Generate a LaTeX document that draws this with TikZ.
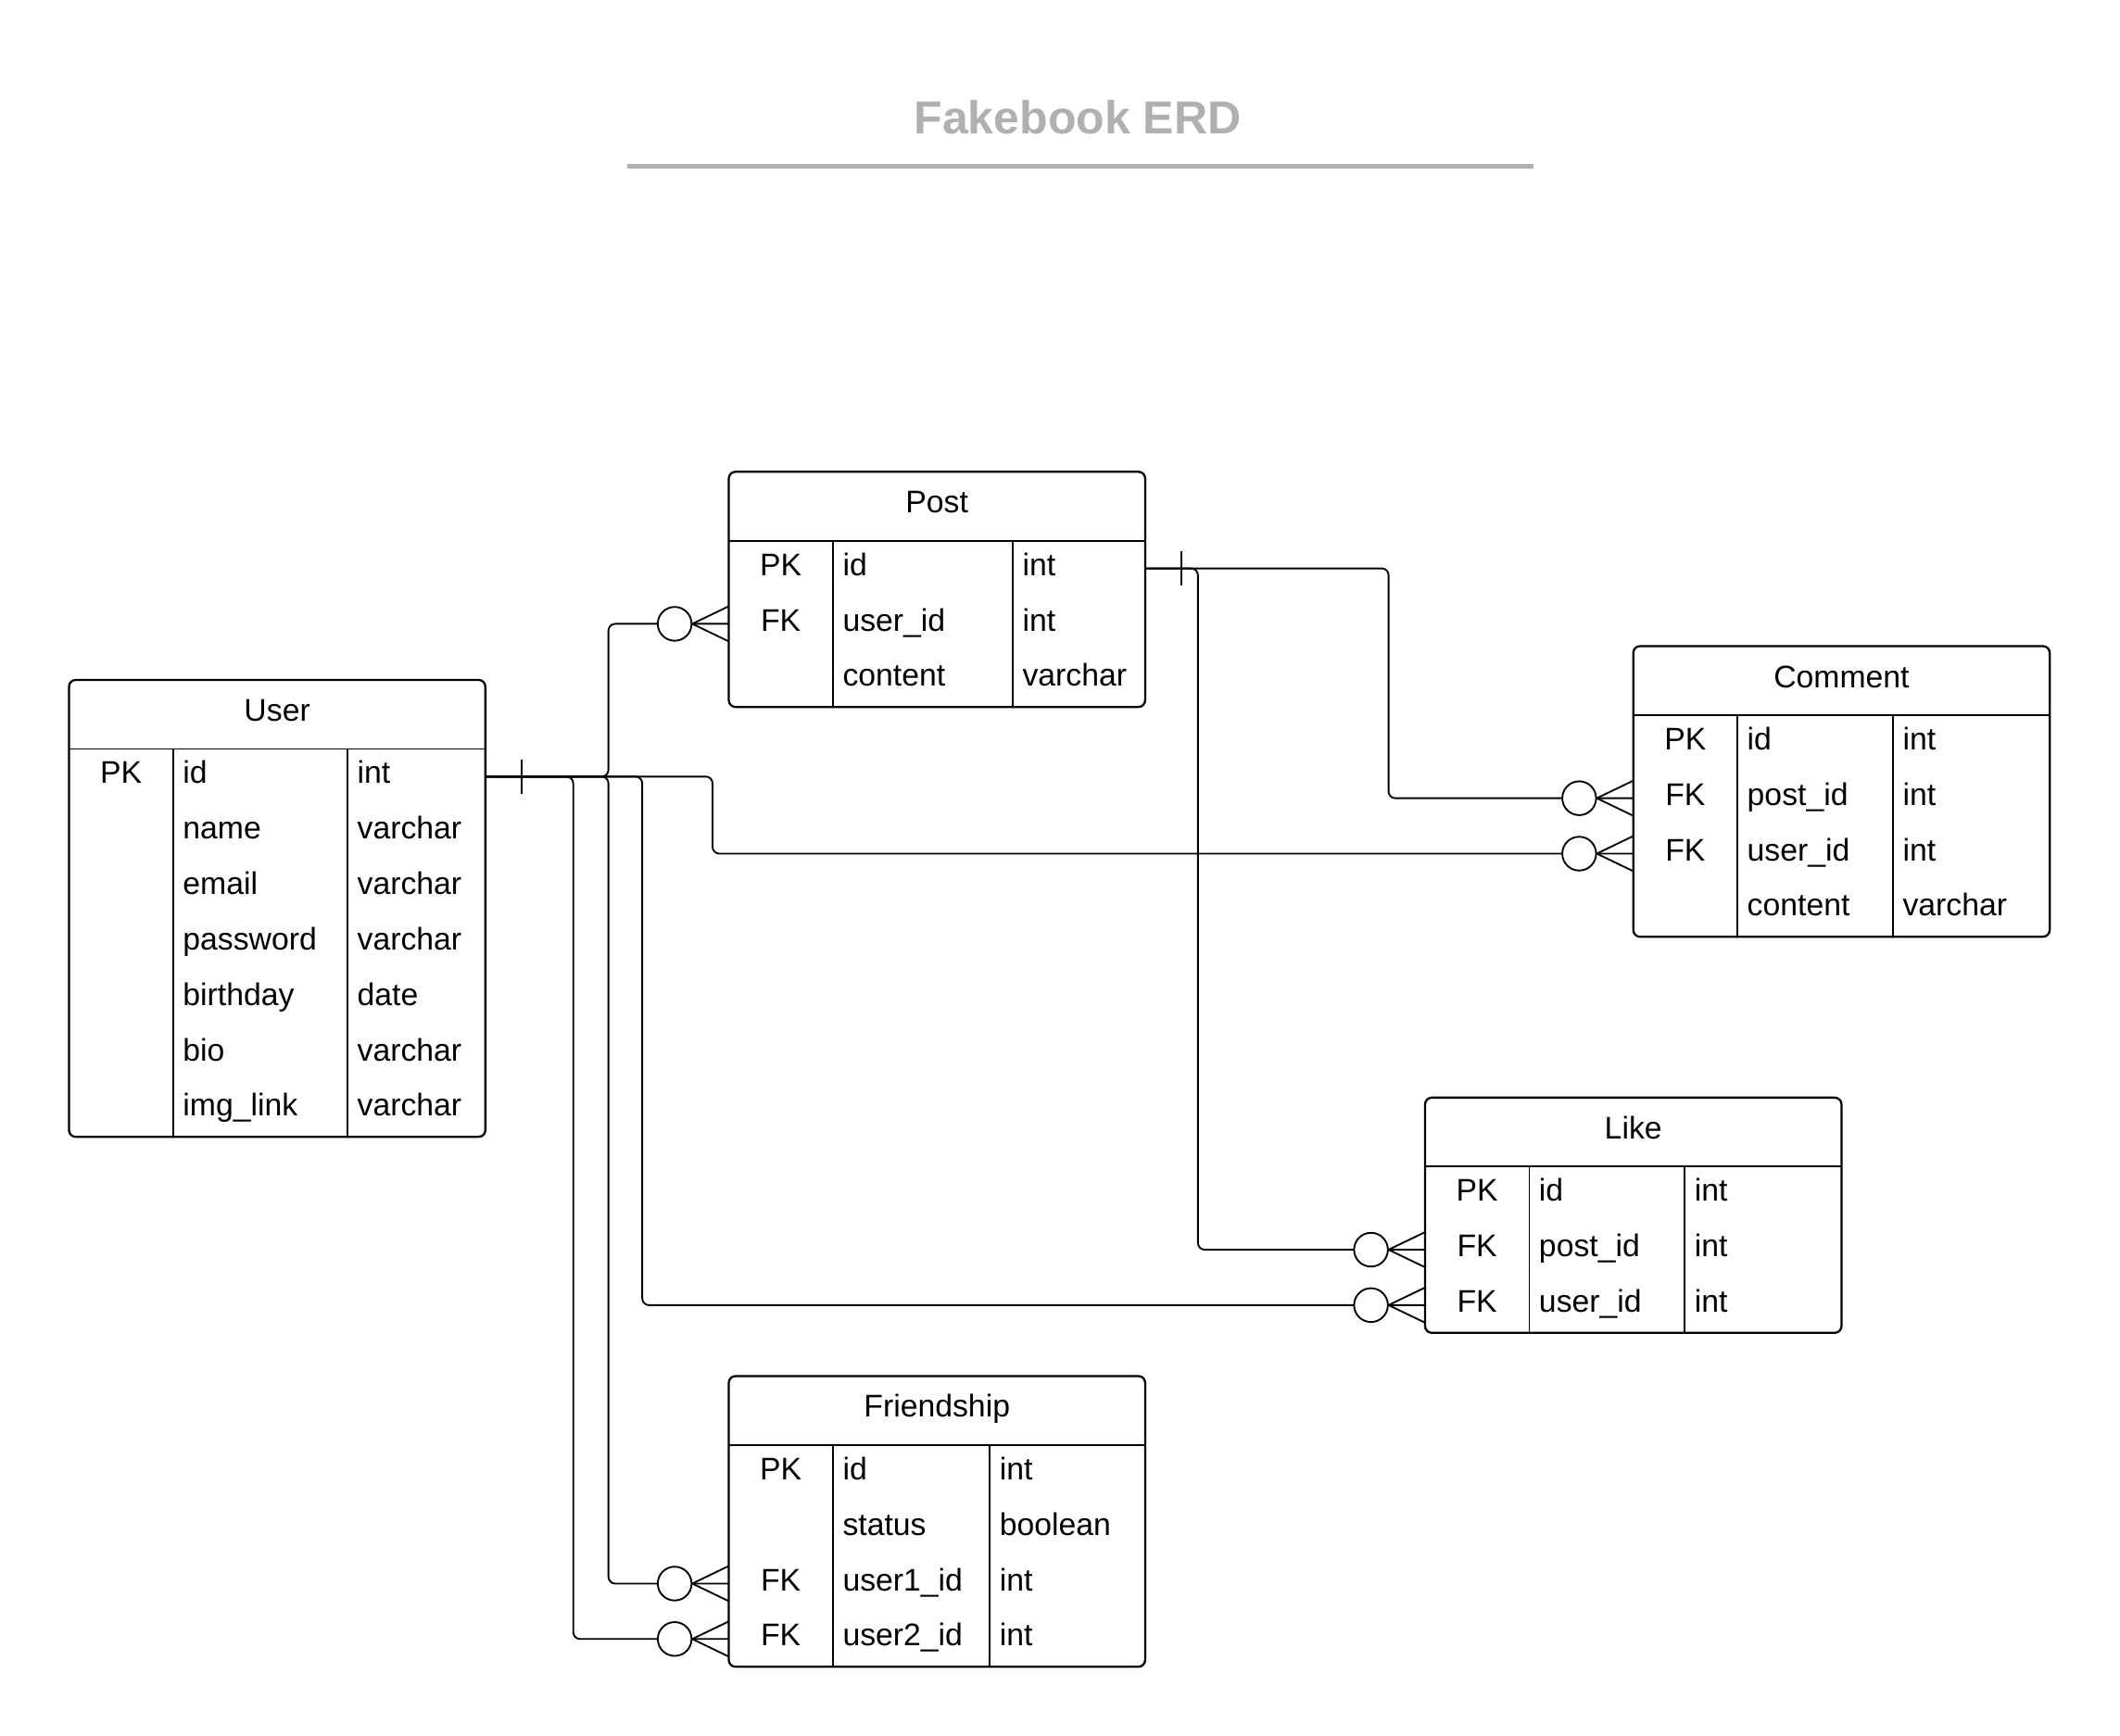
\documentclass[tikz,border=0pt]{standalone}
\usepackage{fontspec}
\setmainfont{Liberation Sans}
\usetikzlibrary{calc,fit}
\definecolor{titlegray}{RGB}{176,176,176}
\newcommand\fieldfont{\fontsize{16.2}{19}\selectfont}
\tikzset{
  tbl/.style={draw=black, line width=1.1pt, rounded corners=3.5pt, inner sep=0pt},
  innerline/.style={draw=black, line width=0.8pt},
  conn/.style={draw=black, line width=0.9pt},
  route/.style={conn, rounded corners=3.5pt},
  keytxt/.style={anchor=base, inner sep=0pt, font=\fieldfont},
  fldtxt/.style={anchor=base west, inner sep=0pt, font=\fieldfont},
  hdrtxt/.style={anchor=base, inner sep=0pt, font=\fieldfont},
}
% #1 name, #2 left, #3 top, #4 rows, #5 second divider offset, #6 title
\newcommand\erdbox[6]{%
  \pgfmathsetmacro\erdH{51+41*#4}
  \node[tbl, fit={(#2,#3) (#2+308,#3+\erdH)}] (#1) {};
  \draw[innerline] (#2,#3+51) -- (#2+308,#3+51);
  \draw[innerline] (#2+77,#3+51) -- (#2+77,#3+\erdH);
  \draw[innerline] (#2+#5,#3+51) -- (#2+#5,#3+\erdH);
  \node[hdrtxt] (#1-title) at (#2+154,#3+25.5+5) {#6};
}
% #1 name, #2 left, #3 top, #4 index, #5 field, #6 type, #7 divider offset
\newcommand\erdrow[7]{%
  \pgfmathsetmacro\erdY{#3+51+41*#4+20.5}
  \coordinate (#1-r#4w) at (#2,\erdY);
  \coordinate (#1-r#4e) at (#2+308,\erdY);
  \node[fldtxt] (#1-f#4) at (#2+84,\erdY+5.2) {#5};
  \node[fldtxt] (#1-t#4) at (#2+#7+7,\erdY+5.2) {#6};
}
% #1 name, #2 left, #3 top, #4 index, #5 key
\newcommand\erdkey[5]{%
  \pgfmathsetmacro\erdY{#3+51+41*#4+20.5}
  \node[keytxt] (#1-k#4) at (#2+38.5,\erdY+5.2) {#5};
}
\newcommand\manyend[1]{%
  \draw[conn] ($(#1)+(-27,0)$) -- ($(#1)+(0,-13)$);
  \draw[conn] ($(#1)+(-27,0)$) -- ($(#1)+(0,13)$);
  \draw[conn, fill=white] ($(#1)+(-40,0)$) circle[radius=8.75pt];
}
\newcommand\oneend[1]{%
  \draw[conn] ($(#1)+(27,-12.5)$) -- ($(#1)+(27,12.5)$);
}
\begin{document}
\begin{tikzpicture}[x=0.7pt,y=-0.7pt]
\useasboundingbox (0,0) rectangle (1568,1283.6);

% title
\node[anchor=base, inner sep=0pt, text=titlegray, font=\fontsize{24}{28}\bfseries\selectfont] (title) at (797,99) {Fakebook ERD};
\coordinate (tl) at (464,123);
\coordinate (tr) at (1134,123);
\draw[titlegray, line width=2.1pt] (tl) -- (tr);

% Post
\erdbox{post}{539}{349}{3}{210}{Post}
\erdkey{post}{539}{349}{0}{PK}
\erdkey{post}{539}{349}{1}{FK}
\erdrow{post}{539}{349}{0}{id}{int}{210}
\erdrow{post}{539}{349}{1}{user\_id}{int}{210}
\erdrow{post}{539}{349}{2}{content}{varchar}{210}

% User
\erdbox{user}{51}{503}{7}{206}{User}
\erdkey{user}{51}{503}{0}{PK}
\erdrow{user}{51}{503}{0}{id}{int}{206}
\erdrow{user}{51}{503}{1}{name}{varchar}{206}
\erdrow{user}{51}{503}{2}{email}{varchar}{206}
\erdrow{user}{51}{503}{3}{password}{varchar}{206}
\erdrow{user}{51}{503}{4}{birthday}{date}{206}
\erdrow{user}{51}{503}{5}{bio}{varchar}{206}
\erdrow{user}{51}{503}{6}{img\_link}{varchar}{206}

% Comment
\erdbox{comment}{1208}{478}{4}{192}{Comment}
\erdkey{comment}{1208}{478}{0}{PK}
\erdkey{comment}{1208}{478}{1}{FK}
\erdkey{comment}{1208}{478}{2}{FK}
\erdrow{comment}{1208}{478}{0}{id}{int}{192}
\erdrow{comment}{1208}{478}{1}{post\_id}{int}{192}
\erdrow{comment}{1208}{478}{2}{user\_id}{int}{192}
\erdrow{comment}{1208}{478}{3}{content}{varchar}{192}

% Like
\erdbox{like}{1054}{812}{3}{192}{Like}
\erdkey{like}{1054}{812}{0}{PK}
\erdkey{like}{1054}{812}{1}{FK}
\erdkey{like}{1054}{812}{2}{FK}
\erdrow{like}{1054}{812}{0}{id}{int}{192}
\erdrow{like}{1054}{812}{1}{post\_id}{int}{192}
\erdrow{like}{1054}{812}{2}{user\_id}{int}{192}

% Friendship
\erdbox{friend}{539}{1018}{4}{193}{Friendship}
\erdkey{friend}{539}{1018}{0}{PK}
\erdkey{friend}{539}{1018}{2}{FK}
\erdkey{friend}{539}{1018}{3}{FK}
\erdrow{friend}{539}{1018}{0}{id}{int}{193}
\erdrow{friend}{539}{1018}{1}{status}{boolean}{193}
\erdrow{friend}{539}{1018}{2}{user1\_id}{int}{193}
\erdrow{friend}{539}{1018}{3}{user2\_id}{int}{193}

% bend columns
\coordinate (bA) at (450,0);
\coordinate (bB) at (424,0);
\coordinate (bC) at (527,0);
\coordinate (bD) at (475,0);
\coordinate (bE) at (1027,0);
\coordinate (bF) at (886,0);

% connectors from User.id
\draw[route] (user-r0e) -| (bA |- post-r1w) -- (post-r1w);
\draw[route] (user-r0e) -| (bC |- comment-r2w) -- (comment-r2w);
\draw[route] (user-r0e) -| (bD |- like-r2w) -- (like-r2w);
\draw[route] (user-r0e) -| (bA |- friend-r2w) -- (friend-r2w);
\draw[route] (user-r0e) -| (bB |- friend-r3w) -- (friend-r3w);
% connectors from Post.id
\draw[route] (post-r0e) -| (bE |- comment-r1w) -- (comment-r1w);
\draw[route] (post-r0e) -| (bF |- like-r1w) -- (like-r1w);

% ends
\oneend{user-r0e}
\oneend{post-r0e}
\manyend{post-r1w}
\manyend{comment-r1w}
\manyend{comment-r2w}
\manyend{like-r1w}
\manyend{like-r2w}
\manyend{friend-r2w}
\manyend{friend-r3w}
\end{tikzpicture}
\end{document}
